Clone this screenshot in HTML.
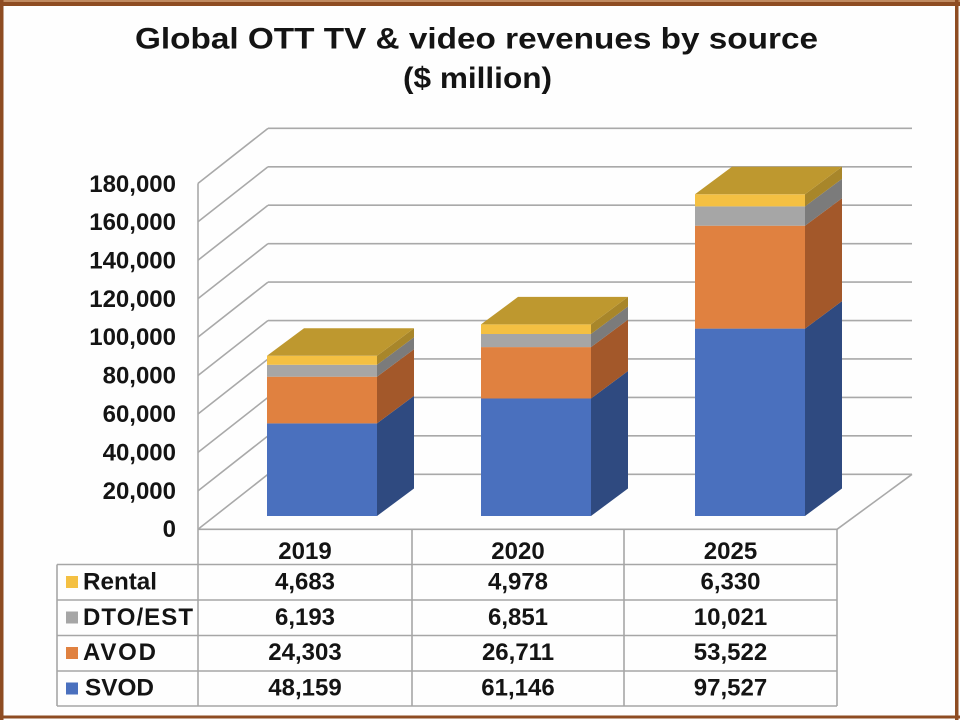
<!DOCTYPE html>
<html><head><meta charset="utf-8"><style>
html,body{margin:0;padding:0;background:#fff;}
svg{display:block;}
text{font-family:"Liberation Sans",Arial,sans-serif;font-weight:bold;fill:#141414;}
</style></head><body>
<svg width="960" height="720" viewBox="0 0 960 720" xmlns="http://www.w3.org/2000/svg">
<rect x="0" y="0" width="960" height="720" fill="#fefefe"/>
<!-- border -->
<rect x="0" y="0" width="960" height="2" fill="#c08a60"/>
<rect x="0" y="2" width="960" height="4" fill="#8e4c22"/>
<rect x="0" y="0" width="3.5" height="720" fill="#8e4c22"/>
<rect x="955" y="0" width="3.5" height="720" fill="#8e4c22"/>
<rect x="0" y="715.5" width="960" height="3" fill="#8e4c22"/>

<!-- title -->
<text x="135" y="48.5" font-size="30" textLength="683" lengthAdjust="spacingAndGlyphs">Global OTT TV &amp; video revenues by source</text>
<text x="403" y="88" font-size="30" textLength="149" lengthAdjust="spacingAndGlyphs">($ million)</text>

<!-- grid -->
<g stroke="#a9a9a9" stroke-width="1.6" fill="none">
<path d="M268 474.3H912 M268 435.86H912 M268 397.42H912 M268 358.98H912 M268 320.54H912 M268 282.1H912 M268 243.66H912 M268 205.22H912 M268 166.78H912 M268 128.34H912"/>
<path d="M198 529.3L268 474.3 M198 490.86L268 435.86 M198 452.42L268 397.42 M198 413.98L268 358.98 M198 375.54L268 320.54 M198 337.1L268 282.1 M198 298.66L268 243.66 M198 260.22L268 205.22 M198 221.78L268 166.78 M198 183.34L268 128.34"/>
<path d="M198 183.34V706"/>
<path d="M837 529.3L912 474.3"/>
</g>

<!-- y labels -->
<g font-size="24" text-anchor="end">
<text x="176" y="537">0</text>
<text x="176" y="499">20,000</text>
<text x="176" y="460.5">40,000</text>
<text x="176" y="422">60,000</text>
<text x="176" y="383.5">80,000</text>
<text x="176" y="345">100,000</text>
<text x="176" y="307">120,000</text>
<text x="176" y="268.5">140,000</text>
<text x="176" y="230">160,000</text>
<text x="176" y="192">180,000</text>
</g>

<!-- bars 2019 -->
<g>
<!-- SVOD 516 -> 423.4 ; AVOD -> 376.7 ; DTO -> 364.8 ; Rental -> 355.8 -->
<rect x="267" y="423.4" width="110" height="92.6" fill="#4a70be"/>
<polygon points="377,516 414,488.5 414,395.9 377,423.4" fill="#2f4a80"/>
<rect x="267" y="376.7" width="110" height="46.7" fill="#e08140"/>
<polygon points="377,423.4 414,395.9 414,349.2 377,376.7" fill="#a3582a"/>
<rect x="267" y="364.8" width="110" height="11.9" fill="#a6a6a6"/>
<polygon points="377,376.7 414,349.2 414,337.3 377,364.8" fill="#7b7b7b"/>
<rect x="267" y="355.8" width="110" height="9" fill="#f4c042"/>
<polygon points="377,364.8 414,337.3 414,328.3 377,355.8" fill="#a8862a"/>
<polygon points="267,355.8 304,328.3 414,328.3 377,355.8" fill="#be982f"/>
</g>
<!-- bars 2020 -->
<g>
<!-- SVOD 61146 -> 398.5; AVOD 87857 -> 347.1; DTO 94708 -> 334.0; Rental 99686 -> 324.4 -->
<rect x="481" y="398.5" width="110" height="117.5" fill="#4a70be"/>
<polygon points="591,516 628,488.5 628,371 591,398.5" fill="#2f4a80"/>
<rect x="481" y="347.1" width="110" height="51.4" fill="#e08140"/>
<polygon points="591,398.5 628,371 628,319.6 591,347.1" fill="#a3582a"/>
<rect x="481" y="334.0" width="110" height="13.1" fill="#a6a6a6"/>
<polygon points="591,347.1 628,319.6 628,306.5 591,334.0" fill="#7b7b7b"/>
<rect x="481" y="324.4" width="110" height="9.6" fill="#f4c042"/>
<polygon points="591,334.0 628,306.5 628,296.9 591,324.4" fill="#a8862a"/>
<polygon points="481,324.4 518,296.9 628,296.9 591,324.4" fill="#be982f"/>
</g>
<!-- bars 2025 -->
<g>
<!-- SVOD 97527 -> 328.6; AVOD 151049 -> 225.7; DTO 161070 -> 206.4; Rental 167400 -> 194.3 -->
<rect x="695" y="328.6" width="110" height="187.4" fill="#4a70be"/>
<polygon points="805,516 842,488.5 842,301.1 805,328.6" fill="#2f4a80"/>
<rect x="695" y="225.7" width="110" height="102.9" fill="#e08140"/>
<polygon points="805,328.6 842,301.1 842,198.2 805,225.7" fill="#a3582a"/>
<rect x="695" y="206.4" width="110" height="19.3" fill="#a6a6a6"/>
<polygon points="805,225.7 842,198.2 842,178.9 805,206.4" fill="#7b7b7b"/>
<rect x="695" y="194.3" width="110" height="12.1" fill="#f4c042"/>
<polygon points="805,206.4 842,178.9 842,166.8 805,194.3" fill="#a8862a"/>
<polygon points="695,194.3 732,166.8 842,166.8 805,194.3" fill="#be982f"/>
</g>

<!-- table -->
<g stroke="#a6a6a6" stroke-width="1.6" fill="none">
<path d="M198 529.3H837"/>
<path d="M57 564.5H837 M57 600H837 M57 635.5H837 M57 671H837 M57 706H837"/>
<path d="M57 564.5V706 M412 529.3V706 M624 529.3V706 M837 529.3V706"/>
</g>
<g font-size="24" text-anchor="middle">
<text x="305" y="559">2019</text>
<text x="518" y="559">2020</text>
<text x="730.5" y="559">2025</text>
<text x="305" y="589.5">4,683</text>
<text x="518" y="589.5">4,978</text>
<text x="730.5" y="589.5">6,330</text>
<text x="305" y="625">6,193</text>
<text x="518" y="625">6,851</text>
<text x="730.5" y="625">10,021</text>
<text x="305" y="660">24,303</text>
<text x="518" y="660">26,711</text>
<text x="730.5" y="660">53,522</text>
<text x="305" y="695.5">48,159</text>
<text x="518" y="695.5">61,146</text>
<text x="730.5" y="695.5">97,527</text>
</g>
<rect x="66" y="576" width="12" height="12" fill="#f4c042"/>
<rect x="66" y="611.5" width="12" height="12" fill="#a6a6a6"/>
<rect x="66" y="647" width="12" height="12" fill="#e08140"/>
<rect x="66" y="682.5" width="12" height="12" fill="#4a70be"/>
<g font-size="24">
<text x="83" y="589.5" textLength="74" lengthAdjust="spacingAndGlyphs">Rental</text>
<text x="83" y="625" textLength="110" lengthAdjust="spacing">DTO/EST</text>
<text x="83" y="660" textLength="73" lengthAdjust="spacing">AVOD</text>
<text x="85" y="695.5" textLength="69" lengthAdjust="spacingAndGlyphs">SVOD</text>
</g>
</svg>
</body></html>
